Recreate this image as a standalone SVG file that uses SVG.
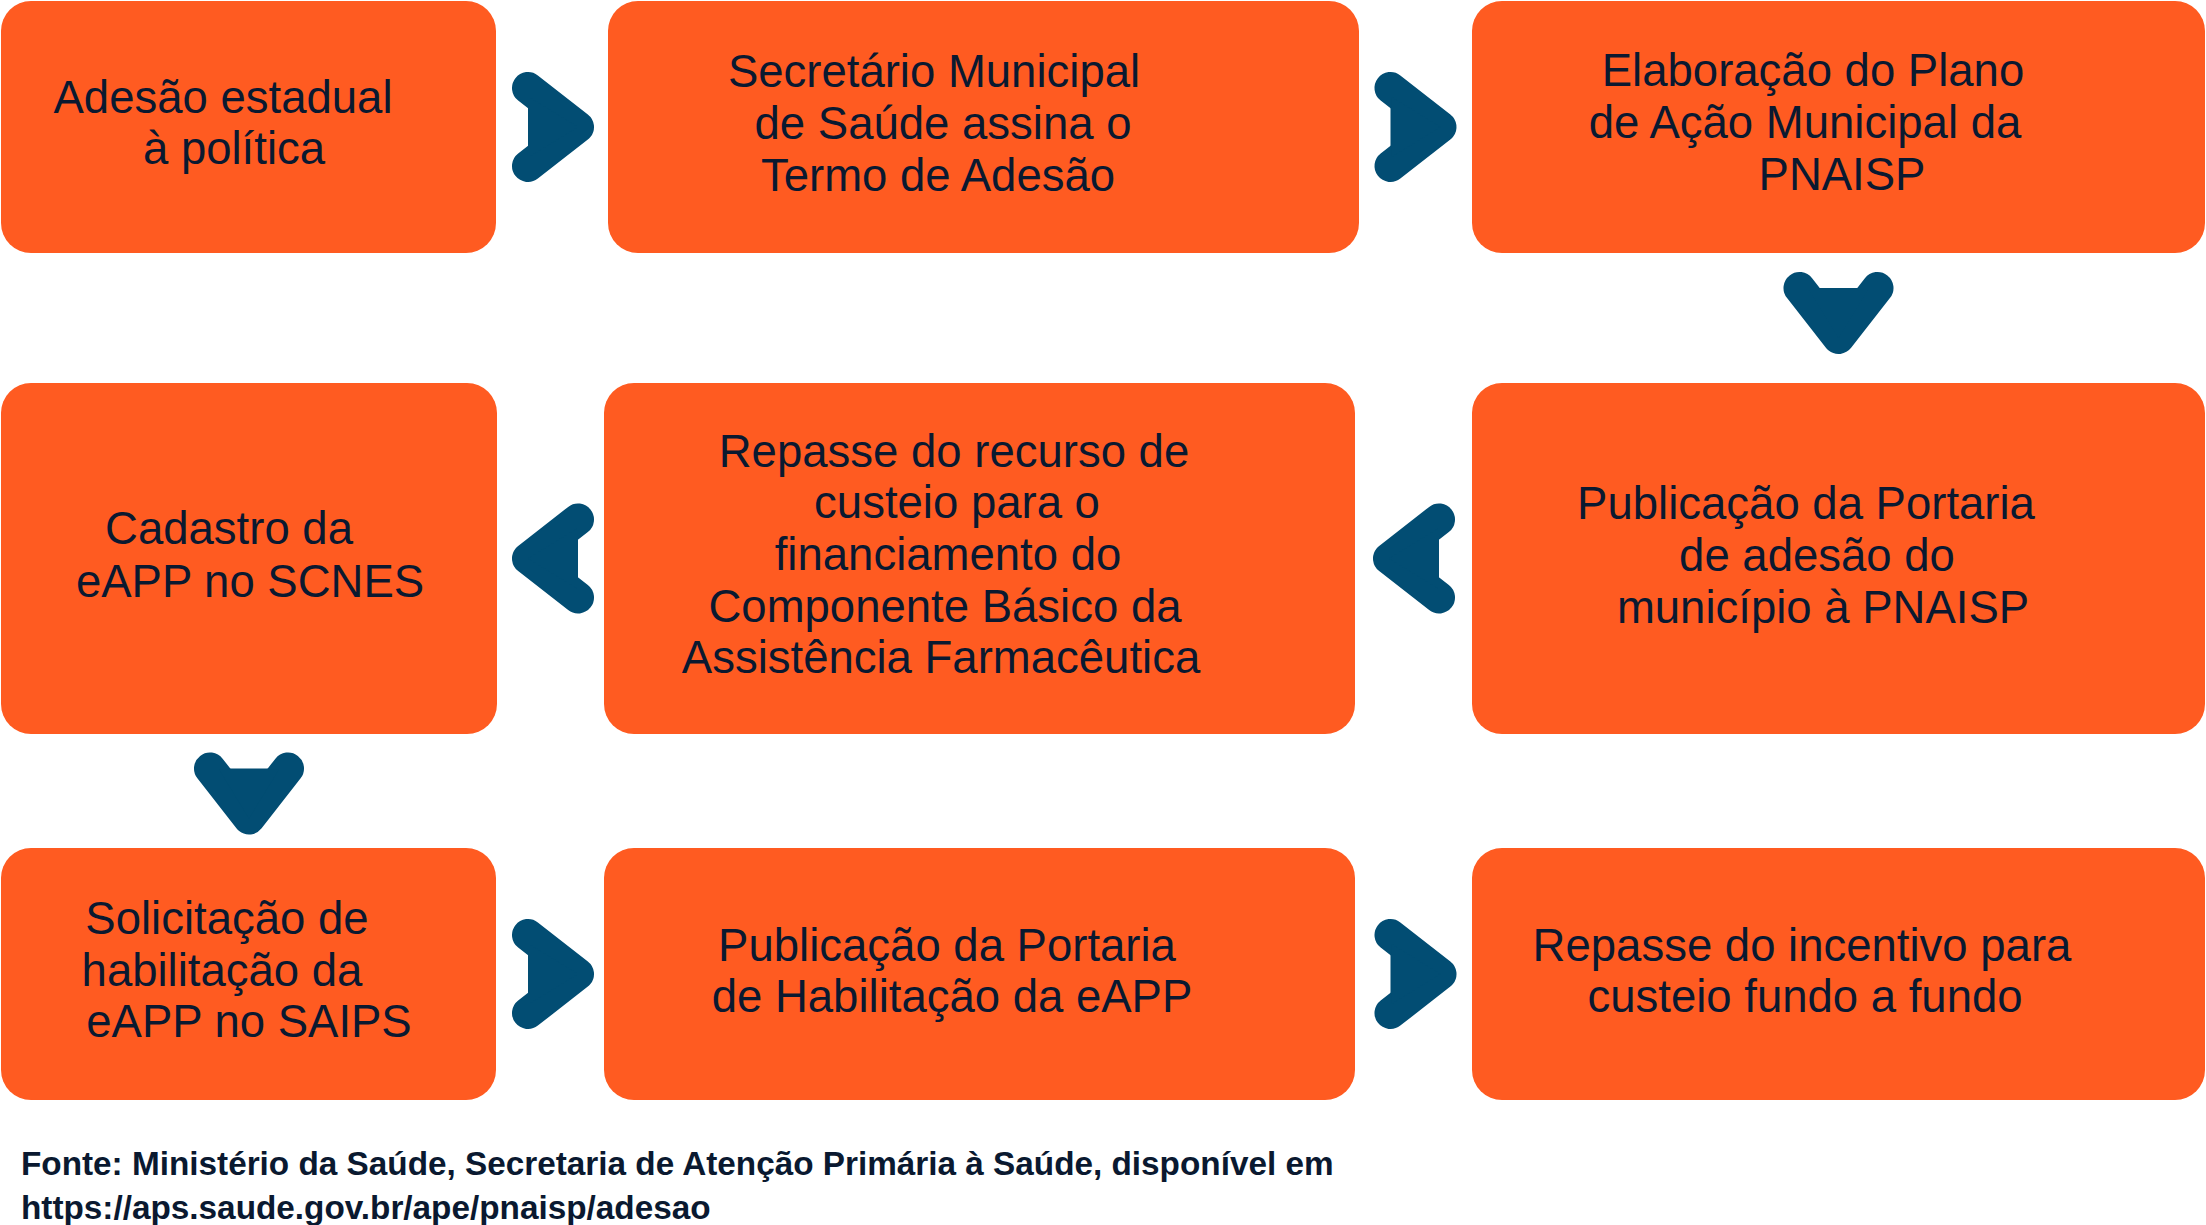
<svg xmlns="http://www.w3.org/2000/svg" xmlns:xlink="http://www.w3.org/1999/xlink" width="2206" height="1225" viewBox="0 0 2206 1225">
<style>
.box{fill:#FF5B21;}
.t{font-family:"Liberation Sans",Arial,sans-serif;font-size:45.5px;fill:#0A1930;text-anchor:middle;}
.src{font-family:"Liberation Sans",Arial,sans-serif;font-size:33.3px;font-weight:bold;fill:#0A1930;}
.chev{fill:#024D73;stroke:#024D73;stroke-width:32;stroke-linejoin:round;stroke-linecap:round;}
</style>
<defs>
<g id="arrow">
<polyline class="chev" points="-25,-39 25,0 -25,39" fill="none"/>
<polygon class="chev" style="stroke:none" points="-24,-30 25,0 -24,30"/>
</g>
</defs>
<rect width="2206" height="1225" fill="#FFFFFF"/>
<g id="connectors">
<use xlink:href="#arrow" href="#arrow" transform="translate(553,127)"/>
<use xlink:href="#arrow" href="#arrow" transform="translate(1415.5,127)"/>
<use xlink:href="#arrow" href="#arrow" transform="translate(1838.5,313) rotate(90)"/>
<use xlink:href="#arrow" href="#arrow" transform="translate(1414,558.5) rotate(180)"/>
<use xlink:href="#arrow" href="#arrow" transform="translate(553,558.5) rotate(180)"/>
<use xlink:href="#arrow" href="#arrow" transform="translate(249,793.5) rotate(90)"/>
<use xlink:href="#arrow" href="#arrow" transform="translate(553,974)"/>
<use xlink:href="#arrow" href="#arrow" transform="translate(1415.5,974)"/>
</g>
<g id="node1">
<rect class="box" x="1" y="1" width="495" height="252" rx="30"/>
<text class="t" x="223" y="113">Adesão estadual</text>
<text class="t" x="234" y="164">à política</text>
</g>
<g id="node2">
<rect class="box" x="608" y="1" width="751" height="252" rx="30"/>
<text class="t" x="934" y="87">Secretário Municipal</text>
<text class="t" x="943" y="139">de Saúde assina o</text>
<text class="t" x="938" y="191">Termo de Adesão</text>
</g>
<g id="node3">
<rect class="box" x="1472" y="1" width="733" height="252" rx="30"/>
<text class="t" x="1813" y="86">Elaboração do Plano</text>
<text class="t" x="1805" y="138">de Ação Municipal da</text>
<text class="t" x="1842" y="190">PNAISP</text>
</g>
<g id="node4">
<rect class="box" x="1" y="383" width="496" height="351" rx="30"/>
<text class="t" x="229" y="544">Cadastro da</text>
<text class="t" x="250" y="597">eAPP no SCNES</text>
</g>
<g id="node5">
<rect class="box" x="604" y="383" width="751" height="351" rx="30"/>
<text class="t" x="954" y="467">Repasse do recurso de</text>
<text class="t" x="957" y="518">custeio para o</text>
<text class="t" x="948" y="570">financiamento do</text>
<text class="t" x="945" y="622">Componente Básico da</text>
<text class="t" x="941" y="673">Assistência Farmacêutica</text>
</g>
<g id="node6">
<rect class="box" x="1472" y="383" width="733" height="351" rx="30"/>
<text class="t" x="1806" y="519">Publicação da Portaria</text>
<text class="t" x="1817" y="571">de adesão do</text>
<text class="t" x="1823" y="623">município à PNAISP</text>
</g>
<g id="node7">
<rect class="box" x="1" y="848" width="495" height="252" rx="30"/>
<text class="t" x="227" y="934">Solicitação de</text>
<text class="t" x="222" y="986">habilitação da</text>
<text class="t" x="249" y="1037">eAPP no SAIPS</text>
</g>
<g id="node8">
<rect class="box" x="604" y="848" width="751" height="252" rx="30"/>
<text class="t" x="947" y="961">Publicação da Portaria</text>
<text class="t" x="952" y="1012">de Habilitação da eAPP</text>
</g>
<g id="node9">
<rect class="box" x="1472" y="848" width="733" height="252" rx="30"/>
<text class="t" x="1802" y="961">Repasse do incentivo para</text>
<text class="t" x="1805" y="1012">custeio fundo a fundo</text>
</g>
<g id="source">
<text class="src" x="21" y="1175">Fonte: Ministério da Saúde, Secretaria de Atenção Primária à Saúde, disponível em</text>
<text class="src" x="21" y="1219">https://aps.saude.gov.br/ape/pnaisp/adesao</text>
</g>
</svg>
